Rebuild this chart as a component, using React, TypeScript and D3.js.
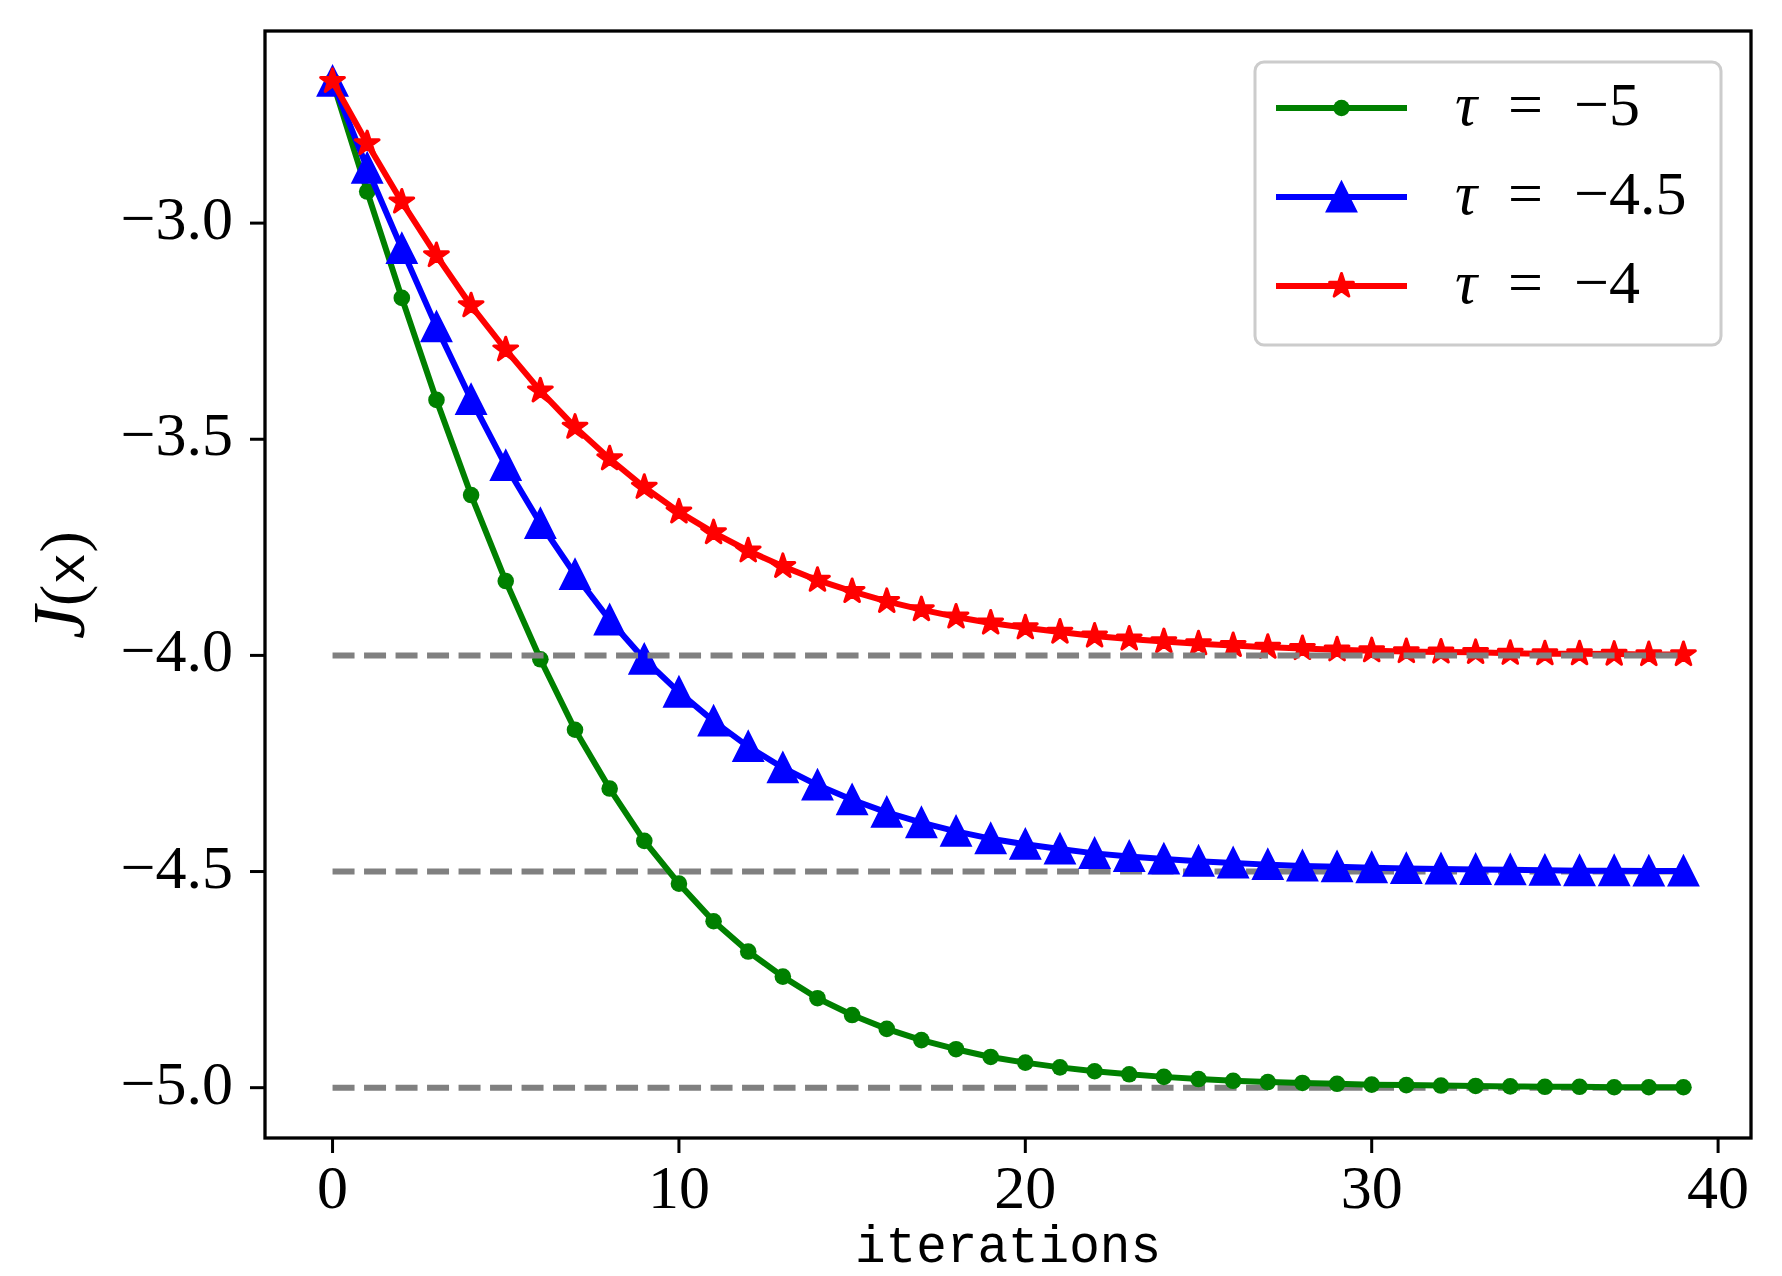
import React, { useEffect, useRef } from 'react';
import * as d3 from 'd3';

// iterations 0..39
const iterations = d3.range(0, 40);

const tauLabels = ['−5', '−4.5', '−4'];
const tauValues = [-5, -4.5, -4];

const seriesTau5 = [
  -2.672, -2.927, -3.173, -3.409, -3.629, -3.828, -4.009, -4.172, -4.308, -4.429,
  -4.528, -4.615, -4.685, -4.743, -4.793, -4.832, -4.864, -4.890, -4.911, -4.929,
  -4.942, -4.953, -4.962, -4.969, -4.975, -4.980, -4.984, -4.987, -4.989, -4.991,
  -4.993, -4.994, -4.995, -4.996, -4.997, -4.998, -4.998, -4.999, -4.999, -4.999,
];
const seriesTau45 = [
  -2.672, -2.873, -3.059, -3.240, -3.408, -3.561, -3.695, -3.813, -3.918, -4.009,
  -4.085, -4.152, -4.211, -4.260, -4.300, -4.334, -4.363, -4.387, -4.407, -4.424,
  -4.437, -4.448, -4.458, -4.465, -4.471, -4.476, -4.480, -4.484, -4.487, -4.489,
  -4.491, -4.493, -4.494, -4.495, -4.496, -4.497, -4.498, -4.498, -4.499, -4.499,
];
const seriesTau4 = [
  -2.672, -2.816, -2.951, -3.075, -3.191, -3.293, -3.388, -3.472, -3.545, -3.611,
  -3.668, -3.716, -3.758, -3.794, -3.826, -3.852, -3.875, -3.894, -3.911, -3.925,
  -3.936, -3.946, -3.955, -3.962, -3.968, -3.973, -3.977, -3.981, -3.984, -3.987,
  -3.989, -3.991, -3.992, -3.993, -3.995, -3.996, -3.996, -3.997, -3.998, -3.998,
];

const xTicks = [0, 10, 20, 30, 40];
const yTicks = [-3.0, -3.5, -4.0, -4.5, -5.0];

const W = 1782;
const H = 1276;
const left = 265, right = 1751, top = 31, bottom = 1138;

const serif = '"Liberation Serif", "DejaVu Serif", serif';
const mono = '"Liberation Mono", "DejaVu Sans Mono", monospace';

function starPath(R: number) {
  const r = R * 0.381966;
  const pts: [number, number][] = [];
  for (let i = 0; i < 10; i++) {
    const a = -Math.PI / 2 + (i * Math.PI) / 5;
    const rad = i % 2 === 0 ? R : r;
    pts.push([rad * Math.cos(a), rad * Math.sin(a)]);
  }
  return 'M' + pts.map(p => p.join(',')).join('L') + 'Z';
}

function trianglePath(h: number) {
  return `M0,${-h}L${-h},${h}L${h},${h}Z`;
}

export default function App() {
  const ref = useRef<SVGSVGElement>(null);

  useEffect(() => {
    const svg = d3.select(ref.current);
    svg.selectAll('*').remove();

    const allY = [...seriesTau5, ...seriesTau45, ...seriesTau4, ...tauValues];
    const [ymin, ymax] = d3.extent(allY) as [number, number];
    const ypad = (ymax - ymin) * 0.05;
    const xpad = (iterations[iterations.length - 1] - iterations[0]) * 0.05;

    const x = d3.scaleLinear()
      .domain([iterations[0] - xpad, iterations[iterations.length - 1] + xpad])
      .range([left, right]);
    const y = d3.scaleLinear()
      .domain([ymin - ypad, ymax + ypad])
      .range([bottom, top]);

    const line = d3.line<number>()
      .x((d, i) => x(iterations[i]))
      .y(d => y(d));

    const drawRef = (tau: number) => {
      svg.append('line')
        .attr('x1', x(iterations[0]))
        .attr('x2', x(iterations[iterations.length - 1]))
        .attr('y1', y(tau))
        .attr('y2', y(tau))
        .attr('stroke', '#808080')
        .attr('stroke-width', 6)
        .attr('stroke-dasharray', '22,9.5');
    };

    const series = [
      { vals: seriesTau5, color: '#008000', marker: 'circle' },
      { vals: seriesTau45, color: '#0000ff', marker: 'triangle' },
      { vals: seriesTau4, color: '#ff0000', marker: 'star' },
    ];

    const drawMarker = (g: any, kind: string, color: string, cx: number, cy: number) => {
      if (kind === 'circle') {
        g.append('circle').attr('cx', cx).attr('cy', cy).attr('r', 8.3).attr('fill', color);
      } else if (kind === 'triangle') {
        g.append('path').attr('d', trianglePath(14))
          .attr('transform', `translate(${cx},${cy})`)
          .attr('fill', color).attr('stroke', color).attr('stroke-width', 3)
          .attr('stroke-linejoin', 'miter');
      } else {
        g.append('path').attr('d', starPath(12.5))
          .attr('transform', `translate(${cx},${cy})`)
          .attr('fill', color).attr('stroke', color).attr('stroke-width', 3)
          .attr('stroke-linejoin', 'round');
      }
    };

    drawRef(-5);
    drawRef(-4.5);

    series.forEach(s => {
      const g = svg.append('g');
      g.append('path')
        .attr('d', line(s.vals))
        .attr('fill', 'none')
        .attr('stroke', s.color)
        .attr('stroke-width', 6)
        .attr('stroke-linejoin', 'round');
      s.vals.forEach((v, i) => drawMarker(g, s.marker, s.color, x(iterations[i]), y(v)));
    });

    drawRef(-4);

    // frame
    svg.append('rect')
      .attr('x', left).attr('y', top)
      .attr('width', right - left).attr('height', bottom - top)
      .attr('fill', 'none').attr('stroke', 'black').attr('stroke-width', 3.3);

    // x ticks
    const xg = svg.append('g');
    xTicks.forEach(t => {
      xg.append('line')
        .attr('x1', x(t)).attr('x2', x(t))
        .attr('y1', bottom).attr('y2', bottom + 15)
        .attr('stroke', 'black').attr('stroke-width', 3);
      xg.append('text')
        .attr('x', x(t)).attr('y', 1208)
        .attr('text-anchor', 'middle')
        .attr('font-family', serif).attr('font-size', 62)
        .text(String(t));
    });

    // y ticks
    const fmt = d3.format('.1f');
    const yg = svg.append('g');
    yTicks.forEach(t => {
      yg.append('line')
        .attr('x1', left - 15).attr('x2', left)
        .attr('y1', y(t)).attr('y2', y(t))
        .attr('stroke', 'black').attr('stroke-width', 3);
      yg.append('text')
        .attr('x', 233).attr('y', y(t) + 16)
        .attr('text-anchor', 'end')
        .attr('font-family', serif).attr('font-size', 62)
        .text(fmt(t));
    });

    // axis labels
    svg.append('text')
      .attr('x', (left + right) / 2).attr('y', 1262)
      .attr('text-anchor', 'middle')
      .attr('font-family', mono).attr('font-size', 51)
      .text('iterations');

    const yl = svg.append('text')
      .attr('transform', 'translate(84,585) rotate(-90)')
      .attr('text-anchor', 'middle')
      .attr('font-family', serif).attr('font-size', 64);
    yl.append('tspan').attr('font-style', 'italic').attr('font-size', 74).text('J');
    yl.append('tspan').text('(');
    yl.append('tspan').attr('font-family', mono).attr('font-size', 54).text('x');
    yl.append('tspan').text(')');

    // legend
    const lg = svg.append('g');
    lg.append('rect')
      .attr('x', 1255).attr('y', 62)
      .attr('width', 466).attr('height', 283)
      .attr('rx', 9)
      .attr('fill', 'white').attr('fill-opacity', 0.8)
      .attr('stroke', '#cccccc').attr('stroke-width', 3);
    const rowY = [108, 197, 286];
    series.forEach((s, i) => {
      const cy = rowY[i];
      lg.append('line')
        .attr('x1', 1276).attr('x2', 1407)
        .attr('y1', cy).attr('y2', cy)
        .attr('stroke', s.color).attr('stroke-width', 6);
      drawMarker(lg, s.marker, s.color, 1341.5, cy);
      const t = lg.append('text')
        .attr('y', cy + 17)
        .attr('font-family', serif).attr('font-size', 62);
      t.append('tspan').attr('x', 1455).attr('font-style', 'italic').text('τ');
      t.append('tspan').attr('x', 1508).text('=');
      t.append('tspan').attr('x', 1574).text(tauLabels[i]);
    });
  }, []);

  return (
    <>
      <style>{`body{margin:0}`}</style>
      <svg ref={ref} width={W} height={H} style={{ display: 'block', background: 'white' }} />
    </>
  );
}
